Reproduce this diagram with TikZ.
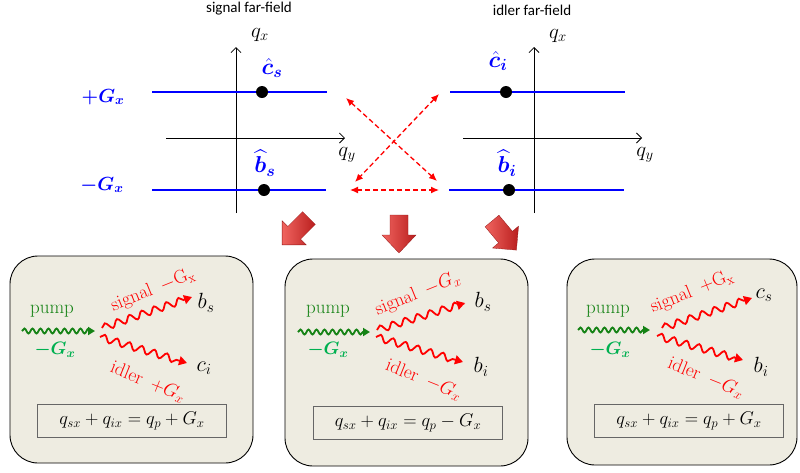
\RequirePackage{fix-cm}
\documentclass[tikz,border=0pt]{standalone}
\usepackage{amsmath,amssymb,bm}
\usepackage{fontspec}
\newfontfamily\calfont{Carlito}
\usepackage{tikz}
\usetikzlibrary{arrows.meta,decorations.pathmorphing}
\usepackage{xcolor}
\definecolor{boxfill}{RGB}{238,236,225}
\definecolor{pumpgreen}{RGB}{20,130,20}
\definecolor{gxgreen}{RGB}{0,176,80}
\definecolor{axisblue}{RGB}{0,0,255}
\definecolor{arrowlight}{RGB}{240,100,95}
\definecolor{arrowdark}{RGB}{185,30,30}

\tikzset{
  title/.style={font=\calfont\fontsize{15}{18}\selectfont},
  axlabel/.style={inner sep=1pt,font=\fontsize{21}{24}\selectfont},
  bluelabel/.style={inner sep=1pt,text=axisblue,font=\fontsize{19}{22}\selectfont},
  hatlabel/.style={inner sep=0pt,text=axisblue,font=\fontsize{23}{26}\selectfont},
  farline/.style={axisblue,line width=2pt},
  spot/.style={circle,fill=black,inner sep=0pt,minimum size=12pt},
  axisline/.style={line width=0.8pt,-{Straight Barb[length=5pt,width=10pt]}},
  swap/.style={red,line width=1.3pt,dash pattern=on 5pt off 3pt,
    {Latex[length=8pt,width=7pt]}-{Latex[length=8pt,width=7pt]}},
  bigarrow/.style={draw=arrowdark!80!black,line width=0.3pt,
    left color=arrowlight,right color=arrowdark},
  panel/.style={draw=black,line width=0.9pt,fill=boxfill,rounded corners=28pt},
  eqbox/.style={draw=gray!80!black,fill=boxfill,line width=0.7pt,inner sep=0pt,
    minimum width=189pt,minimum height=33pt,font=\fontsize{18.5}{22}\selectfont},
  pumptext/.style={inner sep=1pt,text=pumpgreen,font=\fontsize{19}{22}\selectfont},
  gxtext/.style={inner sep=1pt,text=gxgreen,font=\fontsize{18}{21}\selectfont},
  beamtext/.style={inner sep=1pt,text=red,font=\fontsize{19}{22}\selectfont},
  endtext/.style={inner sep=1pt,font=\fontsize{22}{26}\selectfont},
  pumpwave/.style={pumpgreen,line width=1.8pt,decorate,
    decoration={snake,amplitude=2.5pt,segment length=8pt,post length=4pt},
    -{Triangle[length=7pt,width=8pt]}},
  beamwave/.style={red,line width=1.8pt,decorate,
    decoration={snake,amplitude=3.5pt,segment length=13pt,post length=5pt},
    -{Triangle[length=8pt,width=9pt]}}
}

\begin{document}
\begin{tikzpicture}[x=1pt,y=-1pt]
\useasboundingbox (0,0) rectangle (800,472);

% signal far-field
\node[title] (sigtitle) at (249,9) {signal far-field};
\draw[axisline] (236,213) -- (236,47);
\draw[axisline] (166,138) -- (345,138);
\node[axlabel] (sqx) at (260,35) {$q_x$};
\node[axlabel] (sqy) at (347,155) {$q_y$};
\draw[farline] (152,92) -- (327,92);
\draw[farline] (152,190) -- (326,190);
\node[spot] (cs) at (262,92) {};
\node[spot] (bs) at (264,190) {};
\node[hatlabel] (cslab) at (272,68) {$\hat{\bm{c}}_{\bm{s}}$};
\node[hatlabel] (bslab) at (265,163) {$\widehat{\bm{b}}_{\bm{s}}$};
\node[bluelabel] (plusg) at (103,97) {$\bm{+G_x}$};
\node[bluelabel] (minusg) at (102,185) {$\bm{-G_x}$};

% idler far-field
\node[title] (idltitle) at (532,10) {idler far-field};
\draw[axisline] (534,213) -- (534,47);
\draw[axisline] (463,138) -- (642,138);
\node[axlabel] (iqx) at (558,36) {$q_x$};
\node[axlabel] (iqy) at (645,155) {$q_y$};
\draw[farline] (450,92) -- (625,92);
\draw[farline] (449,190) -- (624,190);
\node[spot] (ci) at (506,92) {};
\node[spot] (bi) at (509,190) {};
\node[hatlabel] (cilab) at (498,61) {$\hat{\bm{c}}_{\bm{i}}$};
\node[hatlabel] (bilab) at (507,163) {$\widehat{\bm{b}}_{\bm{i}}$};

% couplings between the two far-fields
\coordinate (xa) at (346,98);
\coordinate (xb) at (437,181);
\coordinate (xc) at (439,94);
\coordinate (xd) at (355,182);
\coordinate (ha) at (350,190);
\coordinate (hb) at (439,190);
\draw[swap] (xa) -- (xb);
\draw[swap] (xc) -- (xd);
\draw[swap] (ha) -- (hb);

% block arrows
\begin{scope}[shift={(309,218)},rotate=-135]
\shade[bigarrow] (0,-9) -- (21,-9) -- (21,-17) -- (38,0) -- (21,17) -- (21,9) -- (0,9) -- cycle;
\end{scope}
\begin{scope}[shift={(399,215)},rotate=-90]
\shade[bigarrow] (0,-9) -- (20,-9) -- (20,-17) -- (38,0) -- (20,17) -- (20,9) -- (0,9) -- cycle;
\end{scope}
\begin{scope}[shift={(492,221)},rotate=-50]
\shade[bigarrow] (0,-9) -- (21,-9) -- (21,-17) -- (38,0) -- (21,17) -- (21,9) -- (0,9) -- cycle;
\end{scope}

% panel 1
\draw[panel] (10,256) rectangle (253,463);
\node[pumptext] (pump1) at (52,311) {pump};
\node[gxtext] (pg1) at (55,350) {$\bm{-G_x}$};
\coordinate (p1a) at (22,331);
\coordinate (p1b) at (95,331);
\draw[pumpwave] (p1a) -- (p1b);
\coordinate (s1a) at (102,328);
\coordinate (s1b) at (192,297);
\draw[beamwave] (s1a) -- (s1b);
\coordinate (i1a) at (100,337);
\coordinate (i1b) at (187,363);
\draw[beamwave] (i1a) -- (i1b);
\node[beamtext,rotate=22] (sig1) at (153,290) {signal\enspace$-\mathrm{G}_\mathrm{x}$};
\node[beamtext,rotate=-22] (idl1) at (148,382) {idler\enspace$+G_x$};
\node[endtext] (bs1) at (206,303) {$b_s$};
\node[endtext] (ci1) at (204,368) {$c_i$};
\node[eqbox] (eq1) at (132,421) {$q_{sx}+q_{ix}=q_p+G_x$};

% panel 2
\draw[panel] (285,259) rectangle (528,466);
\node[pumptext] (pump2) at (328,311) {pump};
\node[gxtext] (pg2) at (328,350) {$\bm{-G_x}$};
\coordinate (p2a) at (298,332);
\coordinate (p2b) at (370,332);
\draw[pumpwave] (p2a) -- (p2b);
\coordinate (s2a) at (377,330);
\coordinate (s2b) at (465,303);
\draw[beamwave] (s2a) -- (s2b);
\coordinate (i2a) at (376,337);
\coordinate (i2b) at (463,362);
\draw[beamwave] (i2a) -- (i2b);
\node[beamtext,rotate=22] (sig2) at (418,294) {signal\enspace$-G_x$};
\node[beamtext,rotate=-22] (idl2) at (424,380) {idler\enspace$-G_x$};
\node[endtext] (bs2) at (483,302) {$b_s$};
\node[endtext] (bi2) at (481,367) {$b_i$};
\node[eqbox] (eq2) at (408,423) {$q_{sx}+q_{ix}=q_p-G_x$};

% panel 3
\draw[panel] (567,259) rectangle (797,465);
\node[pumptext] (pump3) at (608,311) {pump};
\node[gxtext] (pg3) at (610,350) {$\bm{-G_x}$};
\coordinate (p3a) at (578,330);
\coordinate (p3b) at (650,330);
\draw[pumpwave] (p3a) -- (p3b);
\coordinate (s3a) at (662,328);
\coordinate (s3b) at (752,298);
\draw[beamwave] (s3a) -- (s3b);
\coordinate (i3a) at (657,336);
\coordinate (i3b) at (743,360);
\draw[beamwave] (i3a) -- (i3b);
\node[beamtext,rotate=22] (sig3) at (692,292) {signal\enspace$+\mathrm{G}_\mathrm{x}$};
\node[beamtext,rotate=-22] (idl3) at (706,378) {idler\enspace$-G_x$};
\node[endtext] (cs3) at (764,295) {$c_s$};
\node[endtext] (bi3) at (761,367) {$b_i$};
\node[eqbox] (eq3) at (689,421) {$q_{sx}+q_{ix}=q_p+G_x$};
\end{tikzpicture}
\end{document}
